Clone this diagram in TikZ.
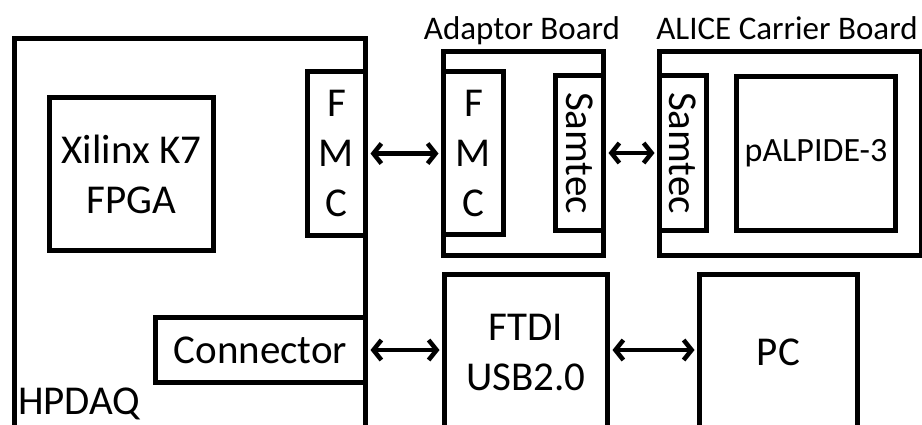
\documentclass[tikz,border=0pt]{standalone}
\usepackage{fontspec}
\setmainfont{Carlito}
\usetikzlibrary{arrows.meta, positioning}
\newcommand{\bigfnt}{\fontsize{41}{50}\selectfont}
\newcommand{\labfnt}{\fontsize{33}{38}\selectfont}

\begin{document}
\begin{tikzpicture}[x=1pt, y=-1pt,
    box/.style={draw, line width=5pt, inner sep=0pt, anchor=north west,
      align=center, font=\bigfnt},
    lbl/.style={inner sep=0pt, anchor=base, font=\labfnt},
    arr/.style={{Straight Barb[length=8pt,width=20pt]}-{Straight Barb[length=8pt,width=20pt]},
      line width=4.5pt, shorten <=2.5pt, shorten >=2.5pt}]
  \useasboundingbox (0,0) rectangle (922,424);
  \clip (0,0) rectangle (922,424);
  % HPDAQ
  \node[box, minimum width=351pt, minimum height=420pt] (hpdaq) at (12,36) {};
  \node[inner sep=0pt, anchor=base west, font=\bigfnt] (hpdaqname) at (18,414) {HPDAQ};
  \node[box, minimum width=164pt, minimum height=153pt] (fpga) at (47,95) {Xilinx K7\\FPGA};
  \node[box, minimum width=58pt, minimum height=164pt] (fmcA) at (305,69) {F\\M\\C};
  \node[box, minimum width=210pt, minimum height=65pt] (conn) at (153,315) {Connector};
  % adaptor board
  \node[box, minimum width=160pt, minimum height=204pt] (adaptor) at (441,49) {};
  \node[lbl] (adaptorname) at (522,39) {Adaptor Board};
  \node[box, minimum width=60pt, minimum height=163pt] (fmcB) at (441,69) {F\\M\\C};
  \node[box, minimum width=48pt, minimum height=155pt] (samA) at (553,73) {\rotatebox{-90}{Samtec}};
  % carrier board
  \node[box, minimum width=262pt, minimum height=204pt] (carrier) at (657,49) {};
  \node[lbl] (carriername) at (787,39) {ALICE Carrier Board};
  \node[box, minimum width=47pt, minimum height=155pt] (samB) at (657,73) {\rotatebox{-90}{Samtec}};
  \node[box, minimum width=159pt, minimum height=154pt, font=\fontsize{34}{40}\selectfont] (chip) at (734,74) {pALPIDE-3};
  % usb path
  \node[box, minimum width=163pt, minimum height=156pt] (ftdi) at (442,272) {FTDI\\USB2.0};
  \node[box, minimum width=158pt, minimum height=156pt] (pc) at (697,272) {PC};

  \draw[arr] (fmcA.east) -- (fmcA.east -| fmcB.west);
  \draw[arr] (samA.east) -- (samA.east -| samB.west);
  \draw[arr] (conn.east) -- (conn.east -| ftdi.west);
  \draw[arr] (ftdi.east |- conn.east) -- (pc.west |- conn.east);
\end{tikzpicture}
\end{document}
